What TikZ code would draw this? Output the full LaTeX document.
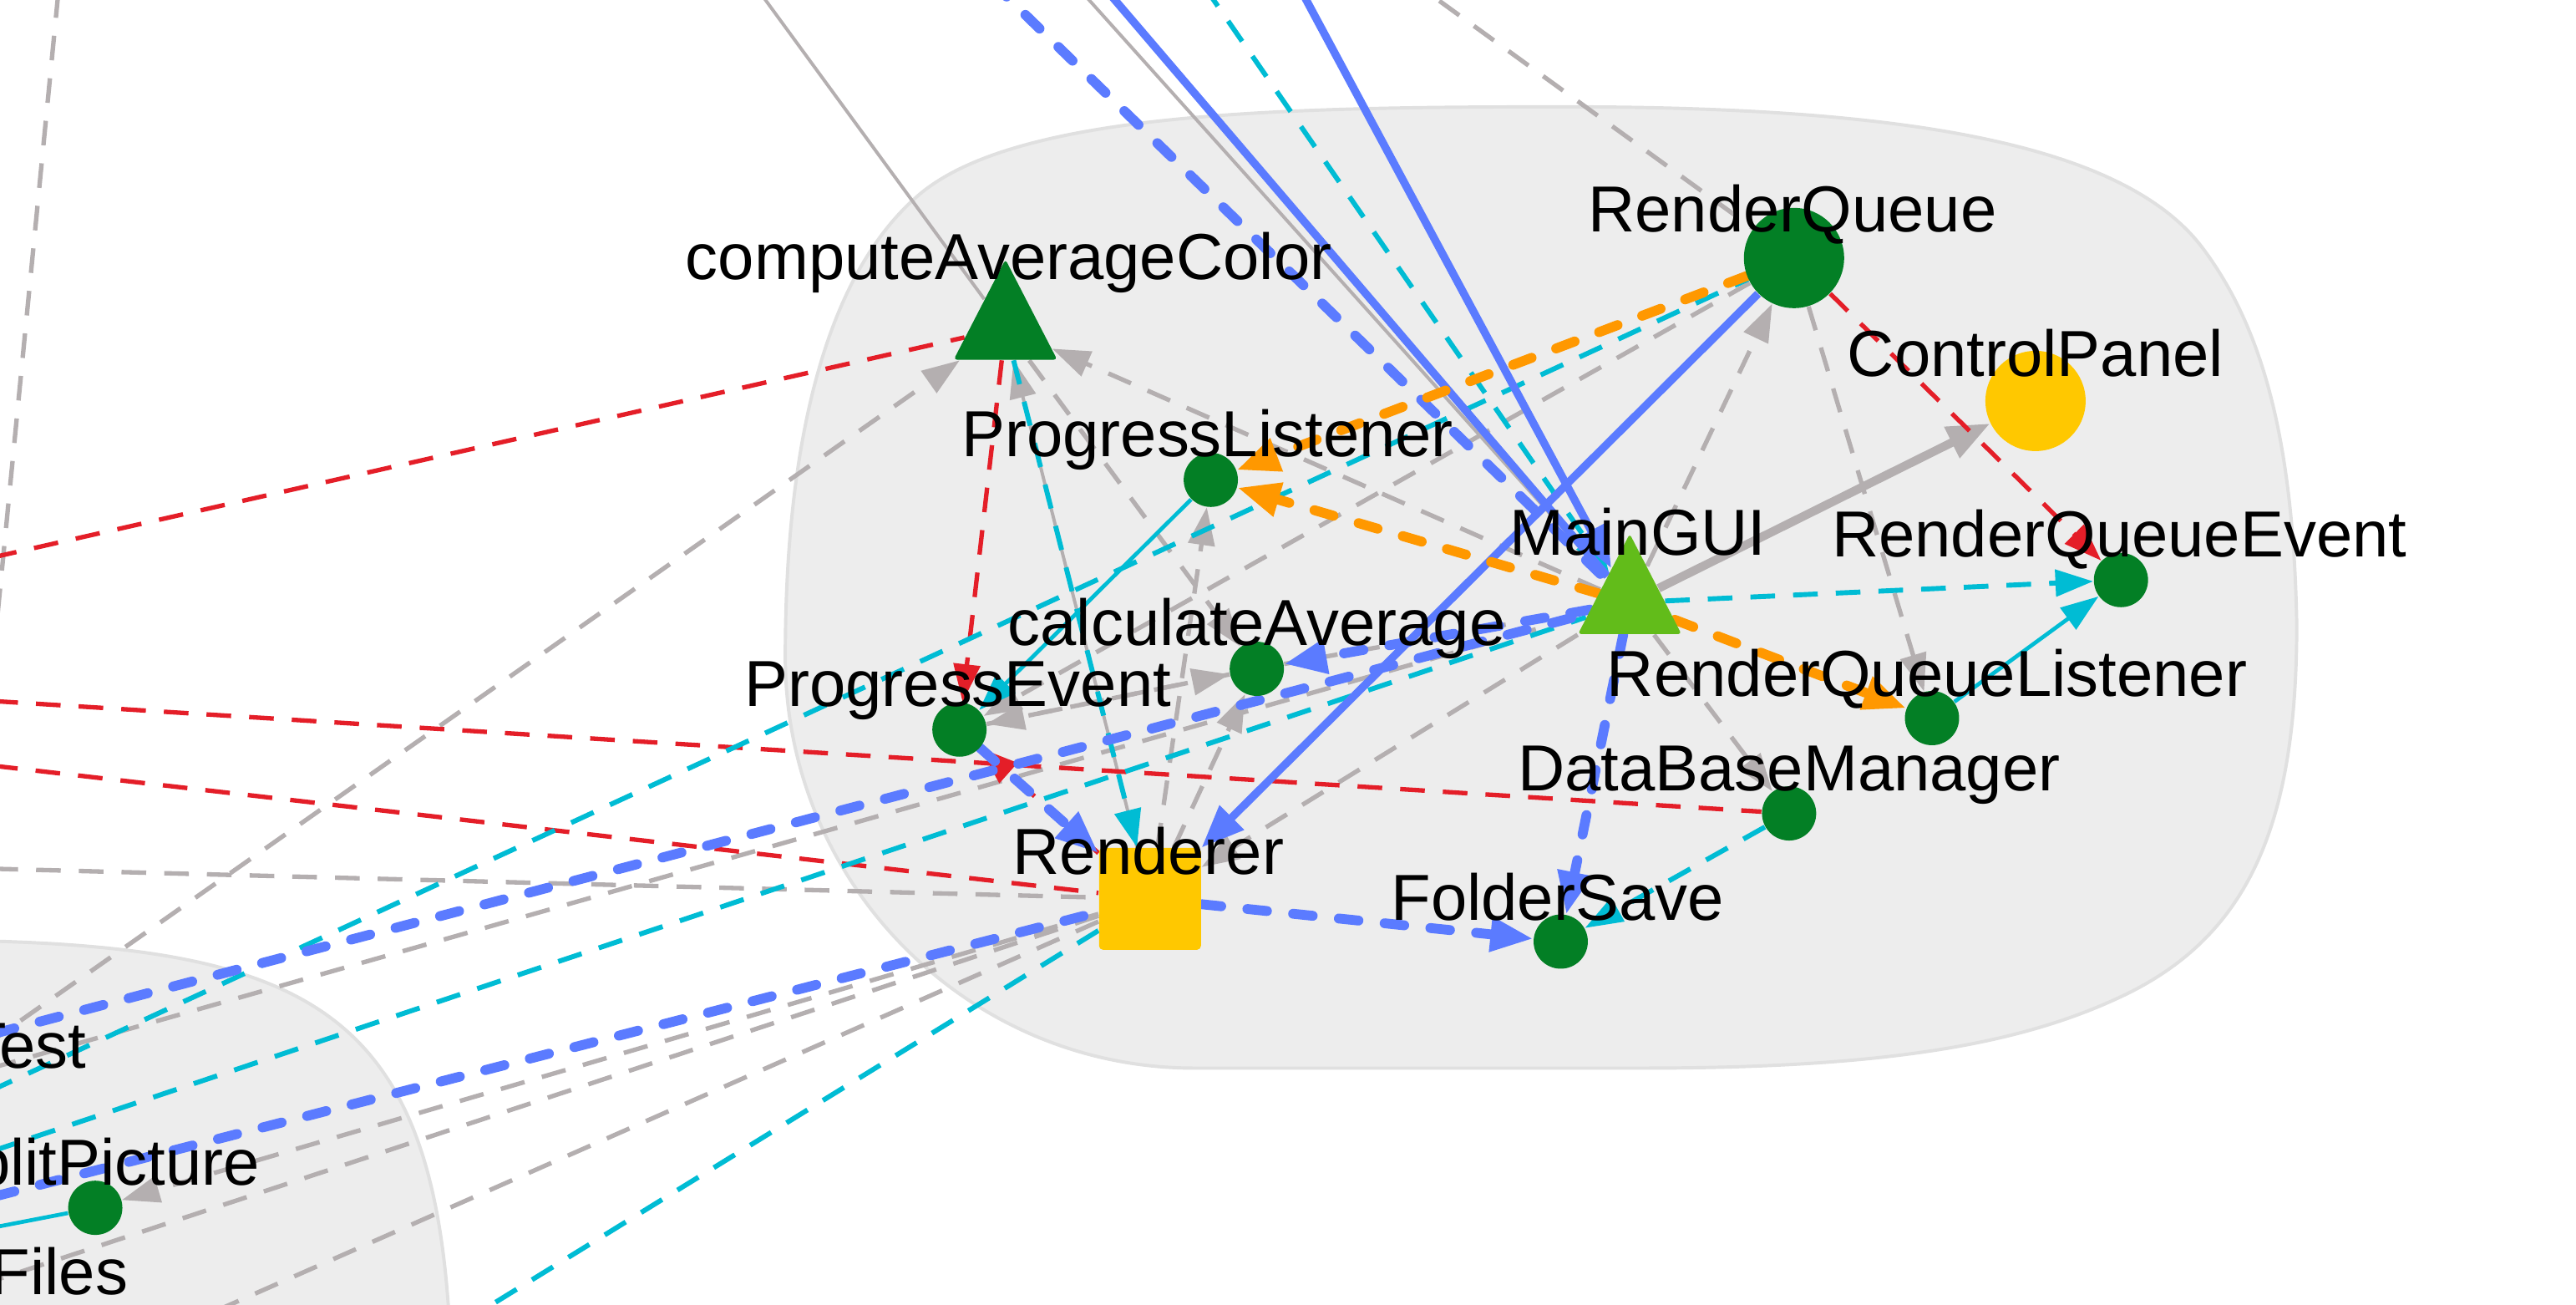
\documentclass[tikz,border=0pt]{standalone}
\usepackage{fontspec}
\setmainfont{Liberation Sans}
\usetikzlibrary{arrows.meta,shapes.geometric}
\definecolor{dgreen}{HTML}{037F25}
\definecolor{lgreen}{HTML}{62BC1A}
\definecolor{yel}{HTML}{FFC800}
\definecolor{egray}{HTML}{B4AFB0}
\definecolor{eblue}{HTML}{5B7BFF}
\definecolor{ecyan}{HTML}{00BCD4}
\definecolor{ered}{HTML}{E41E28}
\definecolor{eorange}{HTML}{FF9800}
\definecolor{clfill}{HTML}{EDEDED}
\definecolor{clline}{HTML}{E0E0E0}
\pgfdeclarelayer{bg}
\pgfdeclarelayer{edges}
\pgfdeclarelayer{fg}
\pgfsetlayers{bg,edges,main,fg}
\begin{document}
\begin{tikzpicture}[x=0.5pt,y=-0.5pt,
  lbl/.style={font=\fontsize{19.8pt}{23pt}\selectfont, inner sep=0pt, anchor=base, text=black},
  smallnode/.style={circle, fill=dgreen, inner sep=0pt, minimum size=16.5pt},
  bignode/.style={circle, inner sep=0pt, minimum size=30.5pt},
  trinode/.style={isosceles triangle, isosceles triangle apex angle=54.6, shape border rotate=90, minimum width=30.5pt, minimum height=30.5pt, inner sep=0pt, anchor=apex, rounded corners=1pt},
  sqnode/.style={rectangle, fill=yel, minimum size=31pt, inner sep=0pt, rounded corners=1.2pt},
  egd/.style={draw=egray, line width=1.35pt, dash pattern=on 7.5pt off 5.5pt},
  egs/.style={draw=egray, line width=1pt},
  egt/.style={draw=egray, line width=2.6pt},
  erd/.style={draw=ered, line width=1.35pt, dash pattern=on 7.5pt off 5.5pt},
  ecd/.style={draw=ecyan, line width=1.5pt, dash pattern=on 7.5pt off 5.5pt},
  ecs/.style={draw=ecyan, line width=1.2pt},
  ebd/.style={draw=eblue, line width=3pt, line cap=round, dash pattern=on 6pt off 8pt},
  ebs/.style={draw=eblue, line width=2.4pt},
  eod/.style={draw=eorange, line width=3pt, line cap=round, dash pattern=on 6pt off 8pt},
  ahead/.style={-{Triangle[length=11.5pt,width=8pt]}},
  aheadb/.style={-{Triangle[length=13pt,width=10pt]}}
]
\useasboundingbox (0,0) rectangle (1568,794);

% background and clusters
\begin{pgfonlayer}{bg}
\fill[white] (0,0) rectangle (1568,794);
\filldraw[fill=clfill, draw=clline, line width=1pt]
  (478,400) .. controls (478,250) and (510,160) .. (560,118)
  .. controls (620,68) and (780,65) .. (952,65)
  .. controls (1150,65) and (1290,85) .. (1340,150)
  .. controls (1378,200) and (1396,270) .. (1398,380)
  .. controls (1398,500) and (1370,570) .. (1290,607)
  .. controls (1230,635) and (1150,650) .. (1000,650)
  -- (727,650)
  .. controls (589,650) and (478,538) .. (478,400) -- cycle;
\filldraw[fill=clfill, draw=clline, line width=1pt]
  (-60,572) .. controls (200,572) and (275,610) .. (275,860)
  -- (275,900) -- (-60,900) -- cycle;
\end{pgfonlayer}

% nodes
\node[trinode, fill=dgreen] (cac) at (612,157) {};
\node[bignode, fill=dgreen] (rq) at (1092,157) {};
\node[bignode, fill=yel] (cp) at (1239,244) {};
\node[smallnode] (pl) at (737,292) {};
\node[trinode, fill=lgreen] (mg) at (992,324) {};
\node[smallnode] (rqe) at (1291,353) {};
\node[smallnode] (ca) at (765,407) {};
\node[smallnode] (rql) at (1176,437) {};
\node[smallnode] (pe) at (584,444) {};
\node[smallnode] (dbm) at (1089,495) {};
\node[sqnode] (ren) at (700,547) {};
\node[smallnode] (fs) at (950,573) {};
\node[smallnode] (sp) at (58,735) {};

% off-picture ends
\coordinate (tA) at (444,-30);
\coordinate (tB) at (584,-30);
\coordinate (tC) at (636,-30);
\coordinate (tD) at (653,-30);
\coordinate (tE) at (718,-30);
\coordinate (tF) at (779,-30);
\coordinate (tG) at (834,-30);
\coordinate (tH1) at (38,-30);
\coordinate (tH2) at (-5,410);
\coordinate (lA) at (-30,345);
\coordinate (lB) at (-30,425);
\coordinate (lC) at (-30,463);
\coordinate (lD) at (-30,528);
\coordinate (lE) at (-30,651);
\coordinate (lF) at (-30,675);
\coordinate (lG) at (-30,709);
\coordinate (lH) at (-30,636);
\coordinate (lI) at (-30,735);
\coordinate (lJ) at (-30,752);
\coordinate (lK) at (-30,657);
\coordinate (bR1) at (-30,788);
\coordinate (bR2) at (81,820);
\coordinate (bR3) at (257,820);

\begin{pgfonlayer}{edges}
% gray solid
\draw[egs] (tA) -- (cac);
\draw[egs] (tC) -- (mg);
\draw[egs,ahead] (ren) -- (cac);
% gray dashed
\draw[egd] (tG) -- (rq);
\draw[egd] (tH1) -- (tH2);
\draw[egd] (lD) -- (ren);
\draw[egd,ahead] (lE) -- (cac);
\draw[egd] (lK) -- (mg);
\draw[egd,ahead] (mg) -- (rq);
\draw[egd,ahead] (mg) -- (cac);
\draw[egd,ahead] (mg) -- (dbm);
\draw[egd,ahead] (mg) -- (ren);
\draw[egd] (mg) -- (ca);
\draw[egd,ahead] (rq) -- (rql);
\draw[egd,ahead] (rq) -- (pe);
\draw[egd,ahead] (cac) -- (ca);
\draw[egd,ahead] (ren) -- (pl);
\draw[egd,ahead] (ren) -- (ca);
\draw[egd,ahead] (ca) -- (pe);
\draw[egd,ahead] (pe) -- (ca);
\draw[egd,ahead] (ren) -- (sp);
\draw[egd] (ren) -- (bR1);
\draw[egd] (ren) -- (bR2);
% gray thick
\draw[egt,aheadb] (mg) -- (cp);
% red
\draw[erd] (lA) -- (cac);
\draw[erd] (lB) -- (dbm);
\draw[erd] (lC) -- (ren);
\draw[erd,ahead] (cac) -- (pe);
\draw[erd,ahead] (rq) -- (rqe);
\draw[erd,ahead] (ren) -- (pe);
% cyan
\draw[ecd] (lF) -- (rq);
\draw[ecd] (lG) -- (mg);
\draw[ecd,ahead] (tE) -- (mg);
\draw[ecd,ahead] (mg) -- (rqe);
\draw[ecd,ahead] (dbm) -- (fs);
\draw[ecd,ahead] (cac) -- (ren);
\draw[ecd] (ren) -- (bR3);
\draw[ecs,ahead] (pl) -- (pe);
\draw[ecs,ahead] (rql) -- (rqe);
\draw[ecs] (lJ) -- (sp);
% blue
\draw[ebd] (tB) -- (mg);
\draw[ebd] (lH) -- (mg);
\draw[ebd] (lI) -- (ren);
\draw[ebd,aheadb] (mg) -- (ca);
\draw[ebd,aheadb] (mg) -- (fs);
\draw[ebd,aheadb] (ren) -- (fs);
\draw[ebd,aheadb] (pe) -- (ren);
\draw[ebs] (tD) -- (mg);
\draw[ebs,aheadb] (tF) -- (mg);
\draw[ebs,aheadb] (rq) -- (ren);
% orange
\draw[eod,aheadb] (rq) -- (pl);
\draw[eod,aheadb] (mg) -- (pl);
\draw[eod,aheadb] (mg) -- (rql);
\end{pgfonlayer}

% labels
\begin{pgfonlayer}{fg}
\node[lbl] (cacT) at (614,170) {computeAverageColor};
\node[lbl] (rqT) at (1091,141) {RenderQueue};
\node[lbl] (cpT) at (1239,229) {ControlPanel};
\node[lbl] (plT) at (735,278) {ProgressListener};
\node[lbl] (mgT) at (997,338) {MainGUI};
\node[lbl] (rqeT) at (1290,339) {RenderQueueEvent};
\node[lbl] (caT) at (765,393) {calculateAverage};
\node[lbl] (rqlT) at (1173,424) {RenderQueueListener};
\node[lbl] (peT) at (583,430) {ProgressEvent};
\node[lbl] (dbmT) at (1089,481) {DataBaseManager};
\node[lbl] (renT) at (699,532) {Renderer};
\node[lbl] (fsT) at (948,560) {FolderSave};
\node[lbl] (spT) at (58,721) {SplitPicture};
\node[lbl] (testT) at (16,650) {Test};
\node[lbl] (filesT) at (36,788) {Files};
\end{pgfonlayer}
\end{tikzpicture}
\end{document}
